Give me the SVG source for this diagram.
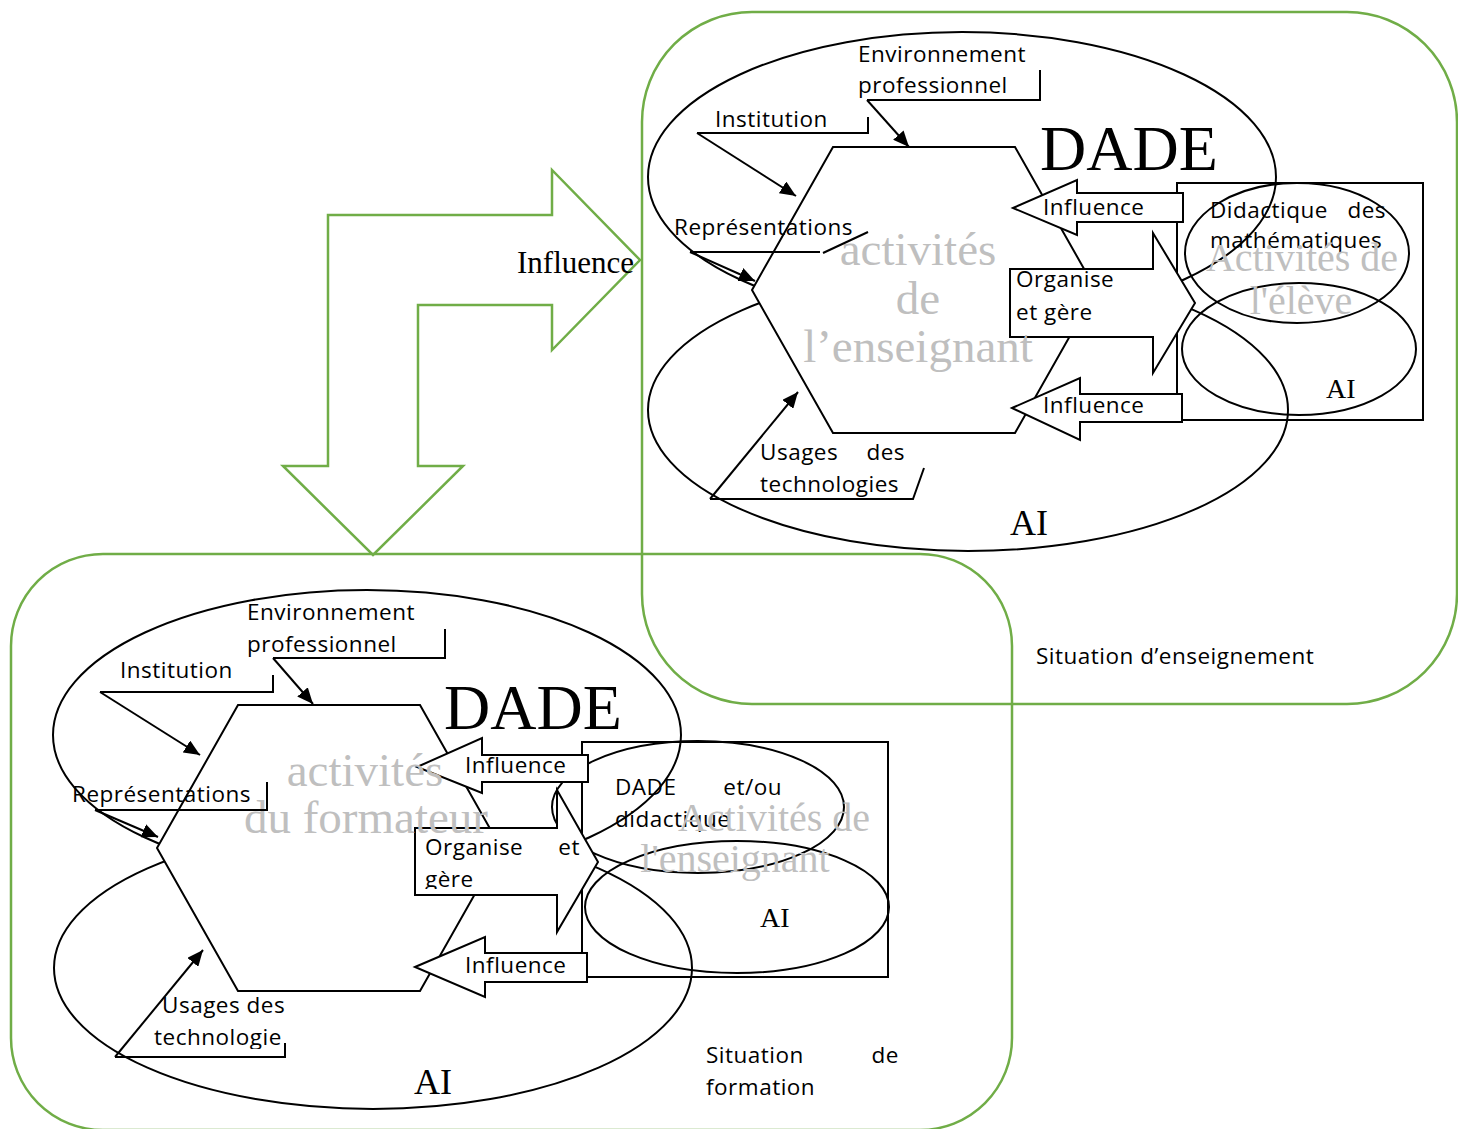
<svg xmlns="http://www.w3.org/2000/svg" width="1458" height="1129" viewBox="0 0 1458 1129">
<defs>
<style>
.g{fill:none;stroke:#70AD47;stroke-width:2.5}
.e{fill:none;stroke:#000;stroke-width:2}
.w{fill:#fff;stroke:#000;stroke-width:2}
.ln{fill:none;stroke:#000;stroke-width:2}
.ar{fill:none;stroke:#000;stroke-width:2;marker-end:url(#ah)}
.s{font-family:"Open Sans","Liberation Sans",sans-serif;font-size:22.5px;letter-spacing:0.5px;fill:#000}
.t{font-family:"Liberation Serif","Times New Roman",serif;fill:#000}
.gr{font-family:"Liberation Serif","Times New Roman",serif;fill:#bfbfbf;text-anchor:middle}
</style>
<marker id="ah" viewBox="0 0 16 14" refX="16" refY="7" markerWidth="16" markerHeight="14" markerUnits="userSpaceOnUse" orient="auto">
<path d="M0,0 L16,7 L0,14 z" fill="#000"/>
</marker>
<clipPath id="cg"><rect x="400" y="820" width="200" height="69"/></clipPath>
<clipPath id="ct"><rect x="140" y="990" width="200" height="59"/></clipPath>
</defs>

<g id="situation-enseignement">
<rect class="g" x="642" y="12" width="815" height="692" rx="110" ry="110"/>
<text class="s" x="1036" y="664">Situation d’enseignement</text>
</g>

<g id="situation-formation">
<rect class="g" x="11" y="554" width="1001" height="576" rx="92" ry="92"/>
<text class="s" x="706" y="1063">Situation</text>
<text class="s" x="899" y="1063" text-anchor="end">de</text>
<text class="s" x="706" y="1095">formation</text>
</g>

<g id="influence-arrow">
<polygon class="g" points="328,215 552,215 552,170 640,260 552,350 552,305 418,305 418,466 463,466 373,555 283,466 328,466"/>
<text class="t" x="517" y="273" font-size="31">Influence</text>
</g>

<g id="dade-enseignant">
<ellipse class="e" cx="962" cy="177" rx="314" ry="145"/>
<ellipse class="e" cx="968" cy="410" rx="320" ry="141"/>
<polygon class="w" points="833,147 1015,147 1096,290 1015,433 833,433 752,290"/>
<text class="t" x="1040" y="170" font-size="64">DADE</text>
<text class="t" x="1010" y="535" font-size="36">AI</text>
</g>

<g id="activites-eleve">
<rect class="ln" x="1177" y="183" width="246" height="237"/>
<ellipse class="e" cx="1297" cy="253" rx="112" ry="70"/>
<ellipse class="e" cx="1299" cy="349" rx="117" ry="66"/>
<text class="s" x="1210" y="218">Didactique</text>
<text class="s" x="1386" y="218" text-anchor="end">des</text>
<text class="s" x="1210" y="248">mathématiques</text>
<text class="t" x="1326" y="398" font-size="28">AI</text>
<text class="gr" x="1302" y="271" font-size="40">Activités de</text>
<text class="gr" x="1301" y="314" font-size="40">l'élève</text>
</g>

<g id="top-influence-1">
<polygon class="w" points="1013,208 1077,180 1077,193 1183,193 1183,222 1077,222 1077,235"/>
<text class="s" x="1043" y="215">Influence</text>
</g>
<g id="top-organise">
<polygon class="w" points="1010,269 1153,269 1153,233 1195,303 1153,373 1153,337 1010,337"/>
<text class="s" x="1016" y="287">Organise</text>
<text class="s" x="1016" y="320">et gère</text>
</g>
<g id="top-influence-2">
<polygon class="w" points="1012,408 1080,378 1080,394 1182,394 1182,422 1080,422 1080,440"/>
<text class="s" x="1043" y="413">Influence</text>
</g>

<g id="top-labels">
<text class="s" x="858" y="62">Environnement</text>
<text class="s" x="858" y="93">professionnel</text>
<text class="s" x="715" y="127">Institution</text>
<text class="s" x="674" y="235">Représentations</text>
<text class="s" x="760" y="460">Usages</text>
<text class="s" x="905" y="460" text-anchor="end">des</text>
<text class="s" x="760" y="492">technologies</text>
<text class="gr" x="918" y="265" font-size="47">activités</text>
<text class="gr" x="918" y="314" font-size="47">de</text>
<text class="gr" x="918" y="362" font-size="47">l’enseignant</text>
</g>

<g id="dade-formateur">
<ellipse class="e" cx="367" cy="735" rx="314" ry="145"/>
<ellipse class="e" cx="373" cy="968" rx="319" ry="141"/>
<polygon class="w" points="238,705 420,705 501,848 420,991 238,991 157,848"/>
<text class="t" x="444" y="729" font-size="64">DADE</text>
<text class="t" x="414" y="1094" font-size="36">AI</text>
</g>

<g id="activites-enseignant">
<rect class="ln" x="582" y="742" width="306" height="235"/>
<ellipse class="e" cx="698" cy="807" rx="146" ry="66"/>
<ellipse class="e" cx="737" cy="907" rx="152" ry="66"/>
<text class="s" x="615" y="795">DADE</text>
<text class="s" x="782" y="795" text-anchor="end">et/ou</text>
<text class="s" x="615" y="827">didactique</text>
<text class="t" x="760" y="927" font-size="28">AI</text>
</g>

<g id="bottom-influence-1">
<polygon class="w" points="417,767 482,738 482,755 588,755 588,782 482,782 482,793"/>
<text class="s" x="465" y="773">Influence</text>
</g>
<g id="bottom-organise">
<polygon class="w" points="415,828 557,828 557,790 598,862 557,932 557,895 415,895"/>
<text class="s" x="425" y="855">Organise</text>
<text class="s" x="580" y="855" text-anchor="end">et</text>
<text class="s" x="425" y="887" clip-path="url(#cg)">gère</text>
</g>
<g id="bottom-influence-2">
<polygon class="w" points="415,967 485,937 485,953 587,953 587,982 485,982 485,997"/>
<text class="s" x="465" y="973">Influence</text>
</g>

<g id="bottom-labels">
<text class="s" x="247" y="620">Environnement</text>
<text class="s" x="247" y="652">professionnel</text>
<text class="s" x="120" y="678">Institution</text>
<text class="s" x="72" y="802">Représentations</text>
<text class="s" x="162" y="1013">Usages des</text>
<text class="s" x="154" y="1045" clip-path="url(#ct)">technologie</text>
<text class="gr" x="365" y="786" font-size="47">activités</text>
<text class="gr" x="366" y="833" font-size="47">du formateur</text>
<text class="gr" x="774" y="831" font-size="40">Activités de</text>
<text class="gr" x="735" y="872" font-size="40">l'enseignant</text>
</g>

<g id="connectors">
<polyline class="ln" points="1040,70 1040,100 867,100"/>
<line class="ar" x1="867" y1="100" x2="909" y2="147"/>
<polyline class="ln" points="868,117 868,133 697,133"/>
<line class="ar" x1="697" y1="133" x2="796" y2="196"/>
<line class="ln" x1="690" y1="252" x2="820" y2="252"/>
<line class="ln" x1="823" y1="253" x2="868" y2="232"/>
<line class="ar" x1="690" y1="252" x2="755" y2="281"/>
<polyline class="ln" points="924,468 913,499 710,499"/>
<line class="ar" x1="710" y1="499" x2="798" y2="392"/>

<polyline class="ln" points="445,629 445,658 273,658"/>
<line class="ar" x1="273" y1="658" x2="313" y2="704"/>
<polyline class="ln" points="273,675 273,692 100,692"/>
<line class="ar" x1="100" y1="692" x2="200" y2="755"/>
<polyline class="ln" points="267,782 267,810 95,810"/>
<line class="ar" x1="95" y1="810" x2="158" y2="837"/>
<polyline class="ln" points="285,1043 285,1057 115,1057"/>
<line class="ar" x1="115" y1="1057" x2="203" y2="950"/>
</g>
</svg>
